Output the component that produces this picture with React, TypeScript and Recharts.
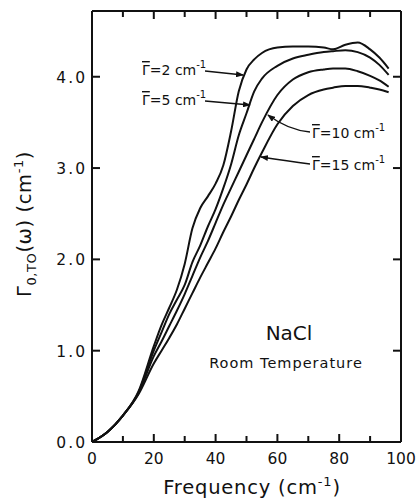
import React from 'react'
import { LineChart, Line, XAxis, YAxis, ReferenceLine } from 'recharts'

// frequency in cm^-1
const frequency = [0, 5, 10, 15, 20, 22.5, 25, 27.5, 30, 32.5, 35, 37.5, 40, 42.5, 45, 47.5, 50, 52.5, 55, 60, 65, 70, 75, 78, 82, 86, 90, 93, 96]

// damping Γ0,TO(ω) for each mean width
const gamma2 = [0, 0.11, 0.29, 0.55, 1.05, 1.28, 1.47, 1.67, 1.95, 2.34, 2.56, 2.69, 2.83, 3.03, 3.4, 3.84, 4.08, 4.19, 4.26, 4.32, 4.33, 4.33, 4.32, 4.3, 4.35, 4.375, 4.3, 4.21, 4.09]
const gamma5 = [0, 0.11, 0.29, 0.54, 1.0, 1.2, 1.4, 1.56, 1.72, 1.97, 2.15, 2.36, 2.55, 2.78, 3.04, 3.36, 3.6, 3.84, 3.98, 4.12, 4.2, 4.24, 4.27, 4.28, 4.29, 4.27, 4.21, 4.13, 4.02]
const gamma10 = [0, 0.11, 0.29, 0.53, 0.94, 1.1, 1.27, 1.44, 1.62, 1.82, 2.02, 2.2, 2.4, 2.6, 2.78, 2.96, 3.14, 3.32, 3.5, 3.8, 3.97, 4.05, 4.08, 4.09, 4.09, 4.06, 4.01, 3.96, 3.89]
const gamma15 = [0, 0.11, 0.29, 0.52, 0.86, 1.0, 1.14, 1.29, 1.46, 1.63, 1.8, 1.96, 2.12, 2.3, 2.47, 2.65, 2.82, 3.0, 3.17, 3.48, 3.68, 3.8, 3.86, 3.88, 3.9, 3.9, 3.88, 3.86, 3.83]

const xTicks = [0, 10, 20, 30, 40, 50, 60, 70, 80, 90, 100]
const yTicks = [0, 1, 2, 3, 4]
const yMax = 4.72

const data = frequency.map((f, i) => ({
  f,
  g2: gamma2[i],
  g5: gamma5[i],
  g10: gamma10[i],
  g15: gamma15[i],
}))

const FONT = '"DejaVu Sans", sans-serif'
const INK = '#111'
const PLOT_W = 309
const PLOT_H = 431

const XTick = (props: any) => {
  const { x, y, payload } = props
  const v = payload.value
  const major = v % 20 === 0
  const len = major ? 8 : 6
  return (
    <g>
      {v > 0 && v < 100 && (
        <>
          <line x1={x} y1={y} x2={x} y2={y - len} stroke={INK} strokeWidth={2} />
          <line x1={x} y1={y - PLOT_H} x2={x} y2={y - PLOT_H + len} stroke={INK} strokeWidth={2} />
        </>
      )}
      {major && (
        <text x={x} y={y + 22} textAnchor="middle" fontSize={15.5} fill={INK} fontFamily={FONT}>
          {v}
        </text>
      )}
    </g>
  )
}

const YTick = (props: any) => {
  const { x, y, payload } = props
  const v = payload.value
  return (
    <g>
      {v > 0 && (
        <>
          <line x1={x} y1={y} x2={x + 8} y2={y} stroke={INK} strokeWidth={2} />
          <line x1={x + PLOT_W} y1={y} x2={x + PLOT_W - 8} y2={y} stroke={INK} strokeWidth={2} />
        </>
      )}
      <text x={x - 5} y={y + 6} textAnchor="end" fontSize={15.5} letterSpacing={2} fill={INK} fontFamily={FONT}>
        {v.toFixed(1)}
      </text>
    </g>
  )
}

// Γ with a bar over it (mean width)
const Gbar = () => <tspan style={{ textDecoration: 'overline' }}>{'\u0393'}</tspan>

export default function App() {
  return (
    <div style={{ position: 'absolute', left: 0, top: 0, width: 419, height: 499, background: '#fff' }}>
      <LineChart width={419} height={499} data={data} margin={{ top: 11, right: 18, left: 32, bottom: 7 }}>
        <XAxis
          dataKey="f"
          type="number"
          domain={[0, 100]}
          ticks={xTicks}
          interval={0}
          height={50}
          tickLine={false}
          tickSize={0}
          tickMargin={0}
          axisLine={{ stroke: INK, strokeWidth: 2 }}
          tick={XTick}
        />
        <YAxis
          type="number"
          domain={[0, yMax]}
          ticks={yTicks}
          interval={0}
          width={60}
          allowDataOverflow
          tickLine={false}
          tickSize={0}
          tickMargin={0}
          axisLine={{ stroke: INK, strokeWidth: 2 }}
          tick={YTick}
        />
        <ReferenceLine y={yMax} stroke={INK} strokeWidth={2} />
        <ReferenceLine x={100} stroke={INK} strokeWidth={2} />
        <Line dataKey="g2" type="monotone" stroke={INK} strokeWidth={2} dot={false} isAnimationActive={false} />
        <Line dataKey="g5" type="monotone" stroke={INK} strokeWidth={2} dot={false} isAnimationActive={false} />
        <Line dataKey="g10" type="monotone" stroke={INK} strokeWidth={2} dot={false} isAnimationActive={false} />
        <Line dataKey="g15" type="monotone" stroke={INK} strokeWidth={2} dot={false} isAnimationActive={false} />
      </LineChart>

      <svg
        width={419}
        height={499}
        style={{ position: 'absolute', left: 0, top: 0, pointerEvents: 'none' }}
        fontFamily={FONT}
        fill={INK}
      >
        <defs>
          <marker id="tip" markerWidth="8" markerHeight="6" refX="7" refY="3" orient="auto" markerUnits="userSpaceOnUse">
            <path d="M0,0 L8,3 L0,6 Z" fill={INK} />
          </marker>
        </defs>

        {/* curve labels */}
        <text x={142} y={75} fontSize={14}>
          <Gbar />=2 cm<tspan dy={-7} fontSize={10}>-1</tspan>
        </text>
        <path d="M205,71 L243,75" stroke={INK} strokeWidth={1.3} fill="none" markerEnd="url(#tip)" />

        <text x={142} y={105} fontSize={14}>
          <Gbar />=5 cm<tspan dy={-7} fontSize={10}>-1</tspan>
        </text>
        <path d="M205,101 L250,105" stroke={INK} strokeWidth={1.3} fill="none" markerEnd="url(#tip)" />

        <text x={312} y={138} fontSize={14}>
          <Gbar />=10 cm<tspan dy={-7} fontSize={10}>-1</tspan>
        </text>
        <path d="M310,132 Q288,130 268,115" stroke={INK} strokeWidth={1.3} fill="none" markerEnd="url(#tip)" />

        <text x={312} y={170} fontSize={14}>
          <Gbar />=15 cm<tspan dy={-7} fontSize={10}>-1</tspan>
        </text>
        <path d="M310,164 Q288,161 261,157" stroke={INK} strokeWidth={1.3} fill="none" markerEnd="url(#tip)" />

        {/* sample */}
        <text x={289} y={340} fontSize={20} textAnchor="middle">NaCl</text>
        <text x={286} y={368} fontSize={14.5} textAnchor="middle" letterSpacing={1}>Room  Temperature</text>

        {/* axis titles */}
        <text x={252} y={494} fontSize={19.5} textAnchor="middle" letterSpacing={0.8}>
          Frequency (cm<tspan dy={-8} fontSize={13}>-1</tspan><tspan dy={8}>)</tspan>
        </text>
        <text x={31} y={224} fontSize={19.5} textAnchor="middle" transform="rotate(-90 31 224)" letterSpacing={0.6}>
          {'\u0393'}<tspan dy={5} fontSize={13}>0,TO</tspan><tspan dy={-5}>(ω)  (cm</tspan><tspan dy={-8} fontSize={13}>-1</tspan><tspan dy={8}>)</tspan>
        </text>
      </svg>
    </div>
  )
}
